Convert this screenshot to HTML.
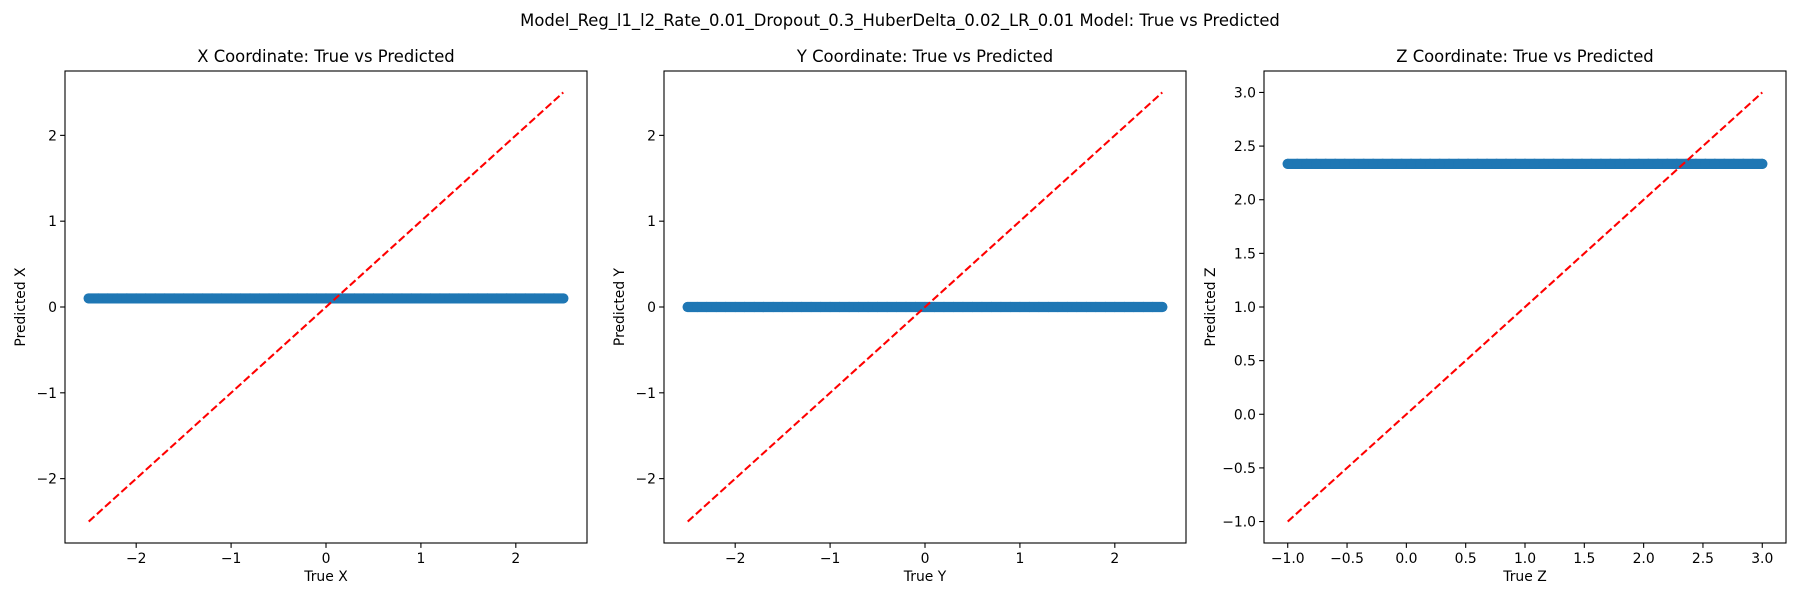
<!DOCTYPE html>
<html><head><meta charset="utf-8">
<style>
html,body{margin:0;padding:0;background:#fff;}
svg{display:block;font-family:"DejaVu Sans","Liberation Sans",sans-serif;}
</style></head>
<body>
<svg id="fig" width="1800" height="600" viewBox="0 0 1800 600" xmlns="http://www.w3.org/2000/svg">
<text x="900" y="26" text-anchor="middle" font-size="16.4" fill="#000">Model_Reg_l1_l2_Rate_0.01_Dropout_0.3_HuberDelta_0.02_LR_0.01 Model: True vs Predicted</text>
</svg>
<script>
// Data
const trueXY = [-2.5,-2.4,-2.3,-2.2,-2.1,-2.0,-1.9,-1.8,-1.7,-1.6,-1.5,-1.4,-1.3,-1.2,-1.1,-1.0,-0.9,-0.8,-0.7,-0.6,-0.5,-0.4,-0.3,-0.2,-0.1,0.0,0.1,0.2,0.3,0.4,0.5,0.6,0.7,0.8,0.9,1.0,1.1,1.2,1.3,1.4,1.5,1.6,1.7,1.8,1.9,2.0,2.1,2.2,2.3,2.4,2.5];
const predX = [0.1,0.1,0.1,0.1,0.1,0.1,0.1,0.1,0.1,0.1,0.1,0.1,0.1,0.1,0.1,0.1,0.1,0.1,0.1,0.1,0.1,0.1,0.1,0.1,0.1,0.1,0.1,0.1,0.1,0.1,0.1,0.1,0.1,0.1,0.1,0.1,0.1,0.1,0.1,0.1,0.1,0.1,0.1,0.1,0.1,0.1,0.1,0.1,0.1,0.1,0.1];
const predY = [0,0,0,0,0,0,0,0,0,0,0,0,0,0,0,0,0,0,0,0,0,0,0,0,0,0,0,0,0,0,0,0,0,0,0,0,0,0,0,0,0,0,0,0,0,0,0,0,0,0,0];
const trueZ = [-1.0,-0.92,-0.84,-0.76,-0.68,-0.6,-0.52,-0.44,-0.36,-0.28,-0.2,-0.12,-0.04,0.04,0.12,0.2,0.28,0.36,0.44,0.52,0.6,0.68,0.76,0.84,0.92,1.0,1.08,1.16,1.24,1.32,1.4,1.48,1.56,1.64,1.72,1.8,1.88,1.96,2.04,2.12,2.2,2.28,2.36,2.44,2.52,2.6,2.68,2.76,2.84,2.92,3.0];
const predZ = [2.334,2.334,2.334,2.334,2.334,2.334,2.334,2.334,2.334,2.334,2.334,2.334,2.334,2.334,2.334,2.334,2.334,2.334,2.334,2.334,2.334,2.334,2.334,2.334,2.334,2.334,2.334,2.334,2.334,2.334,2.334,2.334,2.334,2.334,2.334,2.334,2.334,2.334,2.334,2.334,2.334,2.334,2.334,2.334,2.334,2.334,2.334,2.334,2.334,2.334,2.334];
const ticksXY = [-2,-1,0,1,2];
const tickLabelsXY = ["\u22122","\u22121","0","1","2"];
const ticksZ = [-1.0,-0.5,0.0,0.5,1.0,1.5,2.0,2.5,3.0];
const tickLabelsZ = ["\u22121.0","\u22120.5","0.0","0.5","1.0","1.5","2.0","2.5","3.0"];
const diagXY = [-2.5,2.5];
const diagZ = [-1,3];

const NS="http://www.w3.org/2000/svg";
const fig=document.getElementById('fig');
function mk(tag,attrs,parent){const e=document.createElementNS(NS,tag);for(const k in attrs)e.setAttribute(k,attrs[k]);(parent||fig).appendChild(e);return e;}

function panel(key,left,tx,ty,ticks,labels,diag,title,xl,yl){
  const top=71,bottom=543,w=522;
  const lo=Math.min(...tx,...diag),hi=Math.max(...tx,...diag);
  const m=(hi-lo)*0.05, xmin=lo-m, xmax=hi+m;
  const ylo=Math.min(...ty,...diag),yhi=Math.max(...ty,...diag);
  const ym=(yhi-ylo)*0.05, ymin=ylo-ym, ymax=yhi+ym;
  const X=v=>left+(v-xmin)/(xmax-xmin)*w;
  const Y=v=>bottom-(v-ymin)/(ymax-ymin)*(bottom-top);
  const g=mk('g',{});
  
  
  const t=mk('text',{x:left+w/2,y:62,'text-anchor':'middle','font-size':16.4},g);t.textContent=title;
  
  
  const sg=mk('g',{fill:'#1f77b4'},g);
  
  
  let d='';
  for(let i=0;i<tx.length;i++){d+=(i?'L':'M')+X(tx[i])+' '+Y(ty[i]);}
  const band=mk('path',{d:d,stroke:'#1f77b4','stroke-width':10.2,'stroke-linecap':'round',fill:'none'},sg);
  
  
  for(let i=0;i<tx.length;i++){
    const c=mk('circle',{cx:X(tx[i]),cy:Y(ty[i]),r:5.1},sg);
    
    
  }
  const l=mk('line',{x1:X(diag[0]),y1:Y(diag[0]),x2:X(diag[1]),y2:Y(diag[1]),stroke:'#ff0000','stroke-width':2.08,'stroke-dasharray':'7.7 3.3'},g);
  
  
  const f=mk('rect',{x:left,y:top,width:w,height:bottom-top,fill:'none',stroke:'#000','stroke-width':1.1},g);
  
  
  for(let i=0;i<ticks.length;i++){
    const v=ticks[i];
    const xt=mk('line',{x1:X(v),y1:bottom,x2:X(v),y2:bottom+4.9,stroke:'#000','stroke-width':1.1},g);
    
    
    const xlb=mk('text',{x:X(v),y:bottom+20,'text-anchor':'middle','font-size':13.9},g);xlb.textContent=labels[i];
    
    
    const yt=mk('line',{x1:left-4.9,y1:Y(v),x2:left,y2:Y(v),stroke:'#000','stroke-width':1.1},g);
    
    
    const ylb=mk('text',{x:left-8,y:Y(v)+5,'text-anchor':'end','font-size':13.9},g);ylb.textContent=labels[i];
    
    
  }
  const xa=mk('text',{x:left+w/2,y:581,'text-anchor':'middle','font-size':13.9},g);xa.textContent=xl;
  
  
  const yx=left-(key==='z'?49:40);
  const ya=mk('text',{x:yx,y:(top+bottom)/2,'text-anchor':'middle','font-size':13.9,transform:'rotate(-90 '+yx+' '+(top+bottom)/2+')'},g);ya.textContent=yl;
  
  
}
panel('x',65,trueXY,predX,ticksXY,tickLabelsXY,diagXY,'X Coordinate: True vs Predicted','True X','Predicted X');
panel('y',664,trueXY,predY,ticksXY,tickLabelsXY,diagXY,'Y Coordinate: True vs Predicted','True Y','Predicted Y');
panel('z',1264,trueZ,predZ,ticksZ,tickLabelsZ,diagZ,'Z Coordinate: True vs Predicted','True Z','Predicted Z');
</script>
</body></html>
